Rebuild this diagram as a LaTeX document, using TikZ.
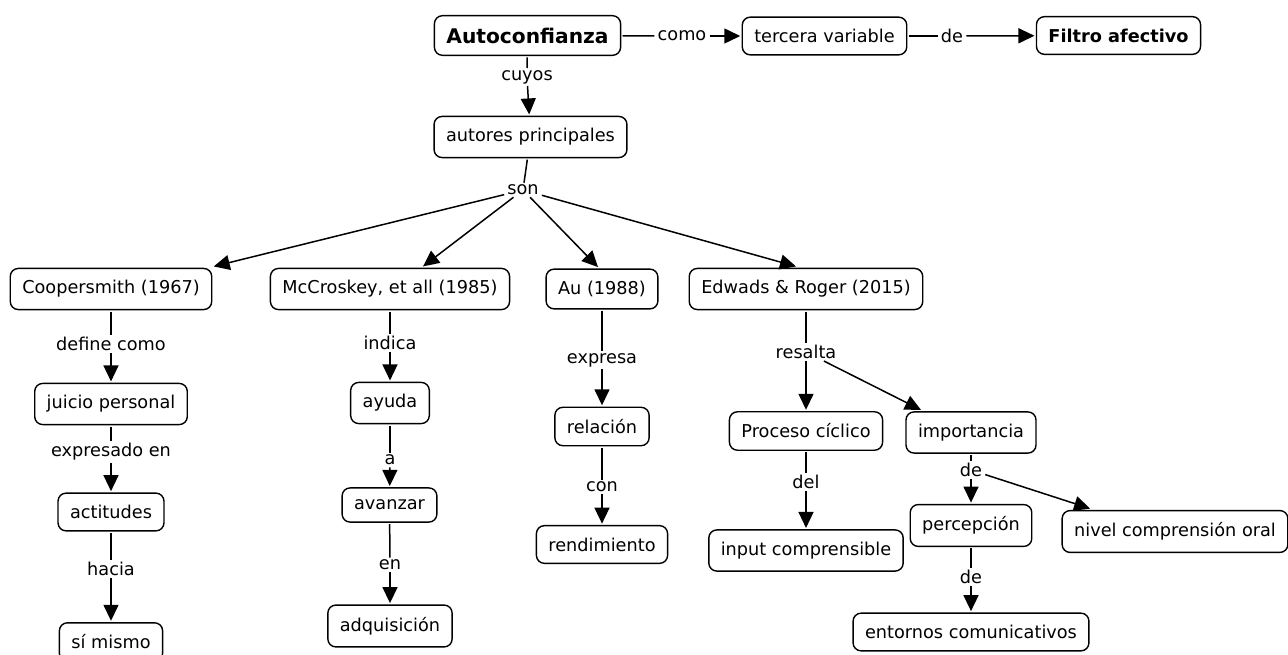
\documentclass[tikz,border=0pt]{standalone}
\usepackage{fontspec}
\setmainfont{DejaVu Sans}
\usetikzlibrary{arrows.meta}
\begin{document}
\begin{tikzpicture}[x=1pt,y=-1pt,
  fnt/.style={font=\fontsize{17.7}{21}\selectfont},
  concept/.style={draw, rounded corners=8pt, line width=1.4pt, inner xsep=12pt, inner ysep=12pt, outer sep=2pt, fnt},
  bconcept/.style={concept, font=\fontsize{17.7}{21}\selectfont\bfseries},
  lab/.style={inner xsep=3pt, inner ysep=2pt, fnt},
  ln/.style={line width=1.5pt},
  arr/.style={line width=1.5pt, -{Triangle[length=16pt,width=15pt]}}
]
\useasboundingbox (0,0) rectangle (1288,655);
% concepts
\node[bconcept, font=\fontsize{20.2}{24}\selectfont\bfseries] (auto) at (527.5,35.5) {Autoconfianza};
\node[concept] (terc) at (824.5,36) {tercera variable};
\node[bconcept] (filt) at (1118.5,35.5) {Filtro afectivo};
\node[concept] (autp) at (530.5,137) {autores principales};
\node[concept] (coop) at (111,289) {Coopersmith (1967)};
\node[concept] (mcc) at (390,289) {McCroskey, et all (1985)};
\node[concept] (au) at (602,289) {Au (1988)};
\node[concept] (edw) at (806,289) {Edwads \& Roger (2015)};
\node[concept] (juic) at (111,404) {juicio personal};
\node[concept] (acti) at (111,512) {actitudes};
\node[concept] (simi) at (111,642) {sí mismo};
\node[concept] (ayud) at (390,403) {ayuda};
\node[concept] (avan) at (389.5,505) {avanzar\ };
\node[concept] (adqu) at (390,626) {adquisición};
\node[concept] (rela) at (602,426.5) {relación};
\node[concept] (rend) at (602,544.5) {rendimiento};
\node[concept] (proc) at (806,431) {Proceso cíclico};
\node[concept] (impo) at (971,432.5) {importancia};
\node[concept] (perc) at (971,525.5) {percepción};
\node[concept] (nivl) at (1175,531.5) {nivel comprensión oral};
\node[concept] (inpu) at (806,550.5) {input comprensible};
\node[concept] (ento) at (971,632) {entornos comunicativos};
% linking phrases
\node[lab] (como) at (682,36) {como};
\node[lab] (de1) at (952,36) {de};
\node[lab] (cuyos) at (527,77) {cuyos};
\node[lab] (son) at (523,190) {son};
\node[lab] (defc) at (111,344) {define como};
\node[lab] (expr) at (111,452) {expresado en};
\node[lab] (hac) at (111,569) {hacia};
\node[lab] (ind) at (390,343) {indica};
\node[lab] (a) at (390,460) {a};
\node[lab] (en) at (390,565) {en};
\node[lab] (exps) at (602,360) {expresa};
\node[lab] (con) at (602,487) {con};
\node[lab] (res) at (806,352) {resalta};
\node[lab] (del) at (806,482) {del};
\node[lab] (de2) at (971,470) {de};
\node[lab] (de3) at (971,577) {de};
% connectors
\draw[ln] (auto) -- (como); \draw[arr] (como) -- (terc);
\draw[ln] (terc) -- (de1); \draw[arr] (de1) -- (filt);
\draw[ln] (auto) -- (cuyos); \draw[arr] (cuyos) -- (autp);
\draw[ln] (autp) -- (son);
\draw[arr] (son) -- (coop.north east);
\draw[arr] (son) -- ([xshift=33pt]mcc.north);
\draw[arr] (son) -- ([xshift=-4pt]au.north);
\draw[arr] (son) -- ([xshift=-10pt]edw.north);
\draw[ln] (coop) -- (defc); \draw[arr] (defc) -- (juic);
\draw[ln] (juic) -- (expr); \draw[arr] (expr) -- (acti);
\draw[ln] (acti) -- (hac); \draw[arr] (hac) -- (simi);
\draw[ln] (mcc) -- (ind); \draw[arr] (ind) -- (ayud);
\draw[ln] (ayud) -- (a); \draw[arr] (a) -- (avan);
\draw[ln] (avan) -- (en); \draw[arr] (en) -- (adqu);
\draw[ln] (au) -- (exps); \draw[arr] (exps) -- (rela);
\draw[ln] (rela) -- (con); \draw[arr] (con) -- (rend);
\draw[ln] (edw) -- (res); \draw[arr] (res) -- (proc);
\draw[arr] (res) -- ([xshift=17pt]impo.north west);
\draw[ln] (proc) -- (del); \draw[arr] (del) -- (inpu);
\draw[ln] (impo) -- (de2); \draw[arr] (de2) -- (perc);
\draw[arr] (de2) -- ([xshift=30pt]nivl.north west);
\draw[ln] (perc) -- (de3); \draw[arr] (de3) -- (ento);
\end{tikzpicture}
\end{document}
